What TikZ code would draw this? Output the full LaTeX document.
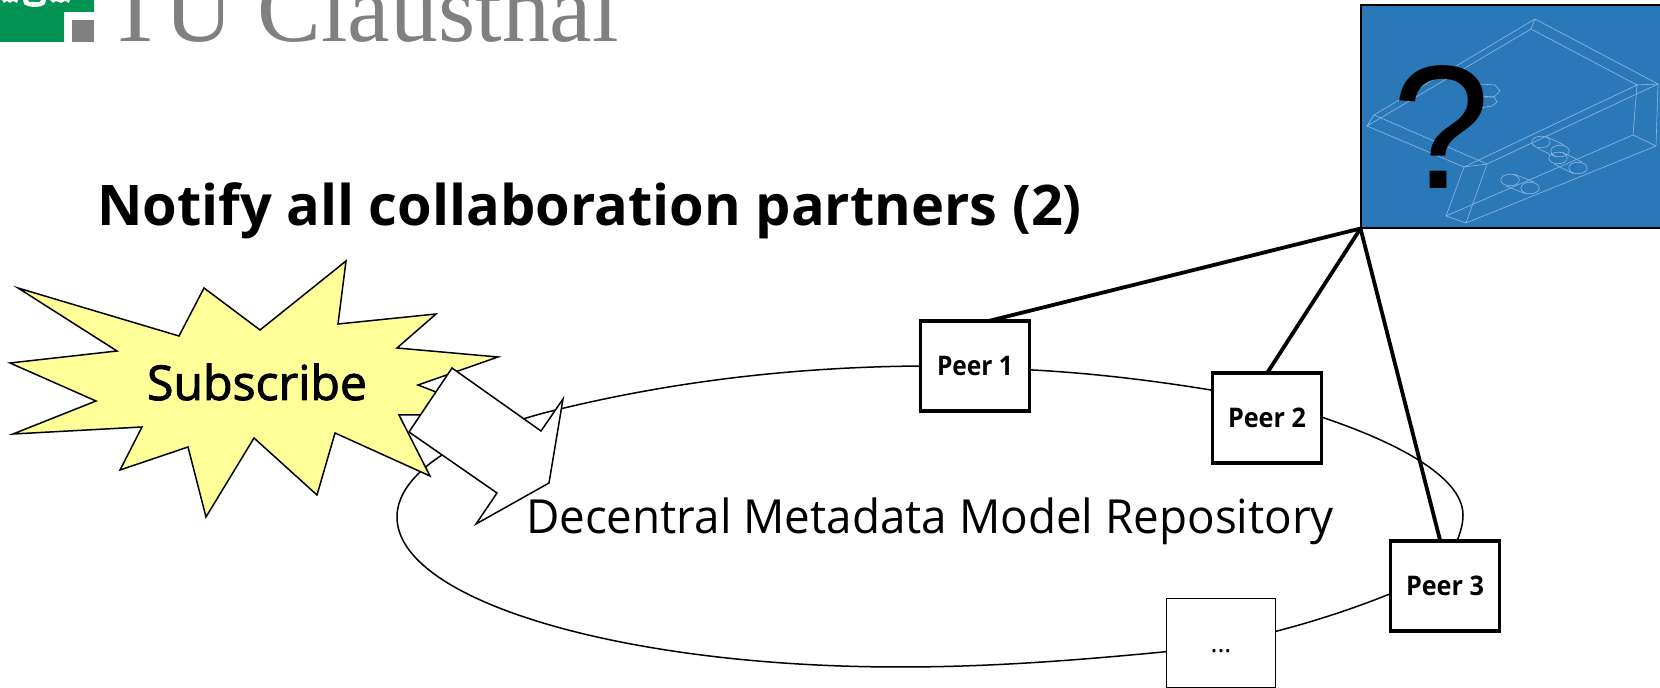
\documentclass[tikz,border=0pt]{standalone}
\usepackage{graphicx}
\usepackage{fontspec}
\setmainfont{Open Sans}
\newfontfamily\medfont[FakeBold=2]{Open Sans}
\newfontfamily\logofont{Liberation Serif}
\newfontfamily\qfont{Liberation Sans}
\newcommand{\fitw}[2]{\resizebox{#1}{\height}{#2}}
\definecolor{tugreen}{HTML}{009353}
\definecolor{tugray}{HTML}{808080}
\definecolor{boxblue}{HTML}{2A78B8}
\definecolor{wirec}{HTML}{8DB8DE}
\definecolor{staryellow}{HTML}{FFFF99}
\newcommand{\wirecyl}[4]{%
  \draw[wire] (#1,#2) ellipse (4.6pt and 2.9pt);
  \draw[wire] (#3,#4) ellipse (4.6pt and 2.9pt);
  \draw[wire] (#1+4,#2-6) -- (#3+4,#4-6);
  \draw[wire] (#1-4,#2+6) -- (#3-4,#4+6);
}
\tikzset{
  x=0.5pt,y=-0.5pt,
  peerbox/.style={draw=black,fill=white,line width=1.8pt,inner sep=0pt,outer sep=0pt,minimum width=54.4pt,minimum height=44.8pt,align=center},
  plainbox/.style={draw=black,fill=white,line width=0.7pt,inner sep=0pt,outer sep=0pt,minimum width=54.5pt,minimum height=44.5pt},
  txt/.style={inner sep=0pt,outer sep=0pt,anchor=base west},
  ring/.style={draw=black,line width=0.75pt},
  link/.style={draw=black,line width=1.9pt},
  shapeline/.style={draw=black,line width=0.75pt,line join=miter},
  wire/.style={draw=wirec,line width=0.3pt},
}
\begin{document}
\begin{tikzpicture}
\useasboundingbox (0,0) rectangle (1660,688);
\clip (0,0) rectangle (1660,688);
% logo
\fill[tugreen] (0,-5) -- (94,-5) -- (94,12) -- (64,12) -- (64,42) -- (0,42) -- cycle;
\fill[tugray] (72,20) rectangle (94,42);
\fill[white] (23,0) -- (24,4) .. controls (30,8) and (40,8) .. (45,4) -- (46,0) -- (41,0) -- (40,2) -- (29,2) -- (28,0) -- cycle;
\fill[white] (2,0) -- (4,3) -- (7,1) -- (10,3) -- (13,1) -- (17,3) -- (18,0) -- cycle;
\fill[white] (50,0) -- (53,3) -- (56,1) -- (61,3) -- (65,1) -- (69,3) -- (70,0) -- cycle;
\node[txt,text=tugray] (logotext) at (106,42) {\fitw{256.5pt}{\logofont\fontsize{48}{50}\selectfont TU Clausthal}};
% title
\node[txt] (title) at (97,226) {\fitw{492.5pt}{\bfseries\fontsize{28}{32}\selectfont Notify all collaboration partners (2)}};
% question box
\node[draw=black,fill=boxblue,line width=1pt,inner sep=0pt,outer sep=0pt,minimum width=153pt,minimum height=111.5pt,anchor=north west] (blue) at (1360.5,5.5) {};
\draw[wire] (1535,19) -- (1374,115) -- (1367,126) -- (1531,29) -- (1535,19) -- (1658,84) -- (1637,85) -- (1531,29);
\draw[wire] (1374,115) -- (1487,164) -- (1658,84);
\draw[wire] (1367,126) -- (1464,167) -- (1637,85);
\draw[wire] (1464,167) -- (1487,164);
\draw[wire] (1464,167) -- (1446,216) -- (1466,223) -- (1487,164);
\draw[wire] (1446,216) -- (1633,135) -- (1656,146) -- (1466,223);
\draw[wire] (1637,85) -- (1633,135);
\draw[wire] (1658,84) -- (1656,146);
\wirecyl{1541}{142}{1560}{151}
\wirecyl{1558}{158}{1578}{168}
\wirecyl{1510}{180}{1530}{188}
\draw[wire] (1480,84) -- (1495,85) -- (1500,91) -- (1494,97) -- (1480,96);
\draw[wire] (1480,97) -- (1494,97) -- (1497,102) -- (1492,106) -- (1480,108);
\node[inner sep=0pt,outer sep=0pt,anchor=base] (question) at (1441,189) {\qfont\fontsize{88}{90}\selectfont ?};
% peers
\node[peerbox] (peer1) at (975,366) {\fitw{38pt}{\bfseries\fontsize{13.5}{15}\selectfont Peer 1}};
\node[peerbox] (peer2) at (1267,418) {\fitw{39pt}{\bfseries\fontsize{13.5}{15}\selectfont Peer 2}};
\node[peerbox] (peer3) at (1445,586) {\fitw{39pt}{\bfseries\fontsize{13.5}{15}\selectfont Peer 3}};
\node[plainbox] (dots) at (1221,643) {};
\node[inner sep=0pt,outer sep=0pt,anchor=base] (dotstext) at (1221,653) {\fontsize{13}{15}\selectfont ...};
% ring
\draw[ring] (peer1.-4) .. controls (1090,373) and (1150,380) .. (peer2.153);
\draw[ring] (peer2.1) .. controls (1390,440) and (1463,475) .. (1463,515) .. controls (1463,525) and (1460,533) .. (peer3.75);
\draw[ring] (peer3.188) .. controls (1360,606) and (1320,620) .. (dots.12);
\draw[ring] (dots.189) .. controls (1060,662) and (980,667) .. (900,667) .. controls (620,667) and (397,600) .. (397,517) .. controls (397,470) and (470,430) .. (560,409) .. controls (680,380) and (800,367) .. (peer1.180);
% links
\draw[link] (blue.south west) -- (peer1.74);
\draw[link] (blue.south west) -- (peer2.north);
\draw[link] (blue.south west) -- (peer3.96);
% star
\filldraw[shapeline,fill=staryellow] (18,288) -- (179,336) -- (204,288) -- (260,330) -- (346,261) -- (338,324) -- (436,314) -- (397,348) -- (498,357) -- (418,385) -- (495,415) -- (399,415) -- (430,476) -- (335,433) -- (317,495) -- (254,438) -- (206,517) -- (188,447) -- (120,470) -- (142,427) -- (13,434) -- (96,401) -- (10,363) -- (117,351) -- cycle;
\node[txt] (subscribe) at (147,400) {\fitw{110pt}{\medfont\fontsize{24}{28}\selectfont Subscribe}};
% arrow
\filldraw[shapeline,fill=white] (452,368) -- (541,431) -- (563,399) -- (549,483) -- (476,524) -- (497,493) -- (409,432) -- cycle;
% label
\node[txt] (repo) at (526,534) {\fitw{404pt}{\fontsize{23.5}{28}\selectfont Decentral Metadata Model Repository}};
\end{tikzpicture}
\end{document}
